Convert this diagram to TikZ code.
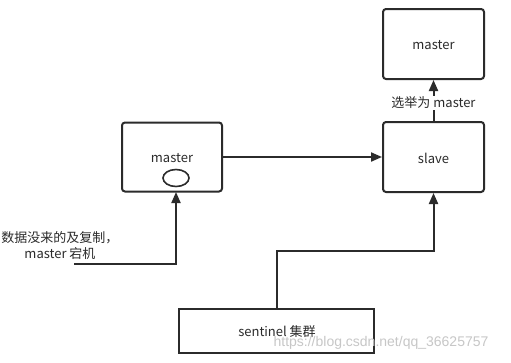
\documentclass[tikz,border=0pt]{standalone}
\usepackage{fontspec}
\setmainfont{Noto Sans CJK SC}
\newfontfamily\wmfont{Liberation Sans}
\usetikzlibrary{arrows.meta}
\definecolor{ln}{HTML}{2B2B2B}
\begin{document}
\begin{tikzpicture}[x=1pt,y=-1pt,
  box/.style={draw=ln,line width=2pt,rounded corners=3pt,inner sep=0pt},
  sqbox/.style={draw=ln,line width=2pt,inner sep=0pt},
  txt/.style={font=\fontsize{13}{16}\selectfont,text=ln,inner sep=1pt},
  conn/.style={draw=ln,line width=2pt,-{Triangle[width=9pt,length=11pt]}}]
\useasboundingbox (0,0) rectangle (511,362);
\fill[white] (0,0) rectangle (511,362);
% boxes
\node[box,minimum width=100pt,minimum height=69pt] (m1) at (172,157) {};
\node[txt] (m1t) at (172,158) {master};
\draw[ln,line width=1.6pt] (176,178) ellipse (13pt and 8.5pt);
\node[box,minimum width=101pt,minimum height=70pt] (sl) at (433.5,157) {};
\node[txt] (slt) at (433.5,158) {slave};
\node[box,minimum width=101pt,minimum height=70pt] (m2) at (433.5,44) {};
\node[txt] (m2t) at (433.5,45) {master};
\node[sqbox,minimum width=195pt,minimum height=44pt] (sen) at (276.5,331) {};
\node[txt] (sent) at (277,332) {sentinel 集群};
% left label
\node[txt,align=center] (lab) at (60,246) {数据没来的及复制，\\master 宕机};
\coordinate (lstart) at (74,264);
\coordinate (lcorner) at (176,264);
\coordinate (m1b) at (176,192);
\draw[conn] (lstart) -- (lcorner) -- (m1b);
% master -> slave
\draw[conn] (m1.east) -- (sl.west);
% slave -> master (elected)
\draw[conn] (sl.north) -- (m2.south);
\node[txt,fill=white,inner sep=1pt] (elect) at (433.5,103) {选举为 master};
% sentinel -> slave
\coordinate (s1) at (277,251);
\coordinate (s2) at (433.5,251);
\draw[conn] (sen.north -| s1) -- (s1) -- (s2) -- (sl.south);
% watermark
\node[font=\wmfont\fontsize{14}{16}\selectfont,text=black!22,inner sep=0pt] (wm) at (381,343) {https://blog.csdn.net/qq\_36625757};
\end{tikzpicture}
\end{document}
